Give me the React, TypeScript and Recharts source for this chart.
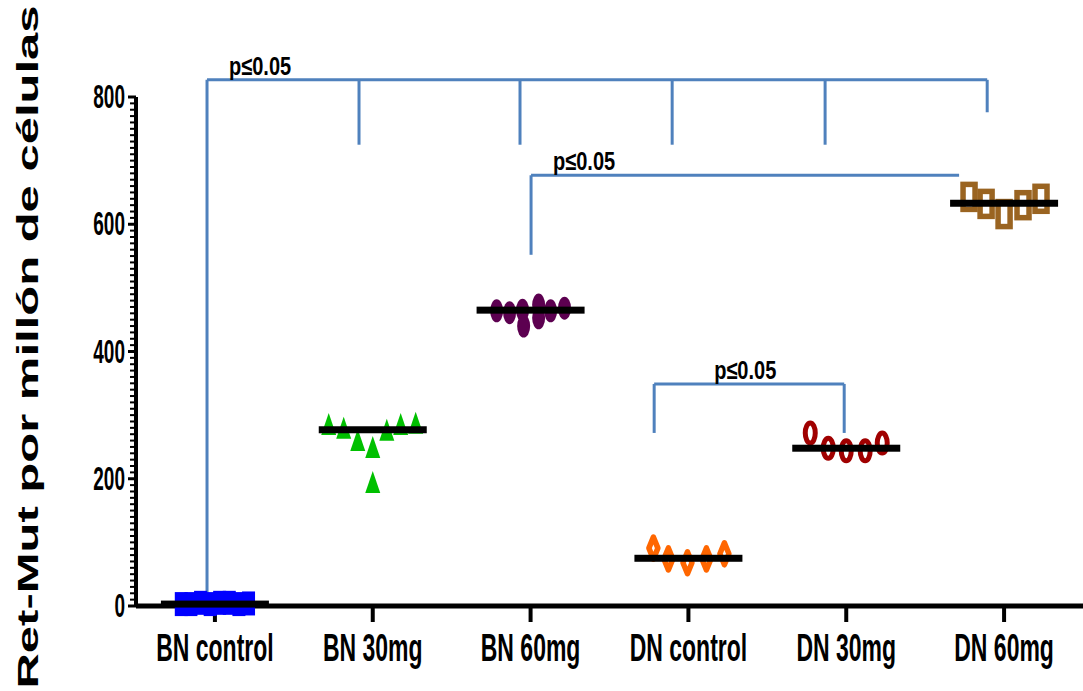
import React from 'react';
import { ScatterChart, Scatter, XAxis, YAxis, ReferenceLine } from 'recharts';

const groups = ['BN control', 'BN 30mg', 'BN 60mg', 'DN control', 'DN 30mg', 'DN 60mg'];
const yTicks = [0, 200, 400, 600, 800];
const minorStep = 10;

// valores de cada grupo + desplazamiento horizontal dentro de la categoria
const bnControl = [3, 3, 5, 3, 5, 5, 3, 4];
const bnControlSpread = [-0.213, -0.152, -0.091, -0.03, 0.03, 0.091, 0.152, 0.213];
const bn30 = [286, 280, 261, 250, 195, 277, 286, 288];
const bn30Spread = [-0.279, -0.184, -0.095, 0, 0, 0.089, 0.177, 0.272];
const bn60 = [464, 461, 465, 440, 473, 453, 464, 468];
const bn60Spread = [-0.215, -0.133, -0.051, -0.044, 0.051, 0.051, 0.127, 0.215];
const dnControl = [91, 74, 68, 74, 82];
const dnControlSpread = [-0.222, -0.127, -0.006, 0.114, 0.228];
const dn30 = [272, 248, 244, 244, 256];
const dn30Spread = [-0.228, -0.114, 0, 0.12, 0.228];
const dn60 = [643, 632, 616, 630, 640];
const dn60Spread = [-0.222, -0.114, 0, 0.12, 0.234];
const means = [3, 277, 465, 75, 248, 633];

// corchetes de significancia
const pLabel = 'p≤0.05';
const bracketLevels = [827, 677, 349];
const bracketSpans = [[0.45, 5.393], [2.503, 5.215], [3.283, 4.487]];
const bracketDrops = [
  [[0.45, 0], [1.413, 725], [2.433, 725], [3.397, 725], [4.366, 725], [5.393, 776]],
  [[2.503, 552]],
  [[3.283, 272], [4.487, 272]],
];
const labelShift = [22, 22, 60];

const FONT = 'Liberation Sans, Arial, sans-serif';
const BLUE = '#4f81bd';

const toPoints = (i: number, vals: number[], spread: number[]) =>
  vals.map((v, k) => ({ x: i + 0.5 + spread[k], y: v }));

const meanPoints = means.map((m, i) => ({ x: i + 0.5, y: m }));

const filledSquare = (p: any) => (
  <rect x={p.cx - 6.5} y={p.cy - 12} width={13} height={24} fill="#0000ff" />
);
const triangle = (p: any) => (
  <polygon
    points={`${p.cx},${p.cy - 11} ${p.cx + 7.5},${p.cy + 11} ${p.cx - 7.5},${p.cy + 11}`}
    fill="#00c000"
  />
);
const blob = (p: any) => <ellipse cx={p.cx} cy={p.cy} rx={6.5} ry={11.5} fill="#5c0050" />;
const openDiamond = (p: any) => (
  <polygon
    points={`${p.cx},${p.cy - 11} ${p.cx + 4.5},${p.cy} ${p.cx},${p.cy + 11} ${p.cx - 4.5},${p.cy}`}
    fill="#fff"
    stroke="#ff6600"
    strokeWidth={5.5}
    strokeLinejoin="round"
  />
);
const ring = (p: any) => (
  <ellipse cx={p.cx} cy={p.cy} rx={5} ry={10} fill="#fff" stroke="#a00000" strokeWidth={5} />
);
const openSquare = (p: any) => (
  <rect x={p.cx - 6} y={p.cy - 12.5} width={12} height={25} fill="#fff" stroke="#9a6421" strokeWidth={5.5} />
);
const meanBar = (p: any) => <rect x={p.cx - 54} y={p.cy - 3.5} width={108} height={7} fill="#000" />;

const XTick = (props: any) => {
  const { x, y, payload } = props;
  return (
    <text
      transform={`translate(${x},${y + 37}) scale(1,1.7)`}
      textAnchor="middle"
      fontSize={23}
      fontWeight="bold"
      fontFamily={FONT}
      fill="#000"
    >
      {groups[Math.round(payload.value - 0.5)]}
    </text>
  );
};

const YTick = (props: any) => {
  const { x, y, payload } = props;
  const major = yTicks.includes(payload.value);
  return (
    <g>
      <line x1={x - (major ? 8 : 6)} x2={x} y1={y} y2={y} stroke="#000" strokeWidth={major ? 3 : 2} />
      {major && (
        <text
          transform={`translate(${x - 11},${y + 11}) scale(1,1.7)`}
          textAnchor="end"
          fontSize={19}
          fontWeight="bold"
          fontFamily={FONT}
          fill="#000"
        >
          {payload.value}
        </text>
      )}
    </g>
  );
};

const titleLabel = () => (
  <text
    transform="translate(38,347) rotate(-90)"
    textAnchor="middle"
    fontSize={30}
    fontWeight="bold"
    fontFamily={FONT}
    textLength={683}
    lengthAdjust="spacingAndGlyphs"
    fill="#000"
  >
    Ret-Mut por millón de células
  </text>
);

const pText = (dx: number) => (props: any) => {
  const vb = props.viewBox || {};
  return (
    <text
      transform={`translate(${vb.x + dx},${vb.y - 5}) scale(1,1.3)`}
      fontSize={20}
      fontWeight="bold"
      fontFamily={FONT}
      fill="#000"
    >
      {pLabel}
    </text>
  );
};

const allYTicks: number[] = [];
for (let v = 0; v <= 800; v += minorStep) allYTicks.push(v);

export default function App() {
  return (
    <div style={{ width: 1083, height: 691 }}>
      <style>{'body{margin:0;overflow:hidden}'}</style>
      <ScatterChart width={1083} height={691} margin={{ top: 97, right: 0, bottom: 0, left: 0 }}>
        <XAxis
          dataKey="x"
          type="number"
          domain={[0, 6]}
          ticks={[0.5, 1.5, 2.5, 3.5, 4.5, 5.5]}
          interval={0}
          height={85}
          tickSize={16}
          tickLine={{ stroke: '#000', strokeWidth: 4 }}
          axisLine={{ stroke: '#000', strokeWidth: 5 }}
          tick={<XTick />}
        />
        <YAxis
          dataKey="y"
          type="number"
          domain={[0, 800]}
          ticks={allYTicks}
          interval={0}
          width={136}
          tickSize={0}
          tickMargin={0}
          tickLine={false}
          axisLine={{ stroke: '#000', strokeWidth: 4 }}
          tick={<YTick />}
          label={titleLabel}
        />
        <Scatter data={toPoints(0, bnControl, bnControlSpread)} shape={filledSquare} isAnimationActive={false} />
        <Scatter data={toPoints(1, bn30, bn30Spread)} shape={triangle} isAnimationActive={false} />
        <Scatter data={toPoints(2, bn60, bn60Spread)} shape={blob} isAnimationActive={false} />
        <Scatter data={toPoints(3, dnControl, dnControlSpread)} shape={openDiamond} isAnimationActive={false} />
        <Scatter data={toPoints(4, dn30, dn30Spread)} shape={ring} isAnimationActive={false} />
        <Scatter data={toPoints(5, dn60, dn60Spread)} shape={openSquare} isAnimationActive={false} />
        <Scatter data={meanPoints} shape={meanBar} isAnimationActive={false} />
        {bracketSpans.map(([a, b], k) => (
          <ReferenceLine
            key={'h' + k}
            segment={[{ x: a, y: bracketLevels[k] }, { x: b, y: bracketLevels[k] }]}
            stroke={BLUE}
            strokeWidth={3}
            ifOverflow="visible"
            label={pText(labelShift[k])}
          />
        ))}
        {bracketDrops.map((drops, k) =>
          drops.map(([x, y], j) => (
            <ReferenceLine
              key={'v' + k + '-' + j}
              segment={[{ x, y: bracketLevels[k] }, { x, y }]}
              stroke={BLUE}
              strokeWidth={3}
              ifOverflow="visible"
            />
          ))
        )}
      </ScatterChart>
    </div>
  );
}
